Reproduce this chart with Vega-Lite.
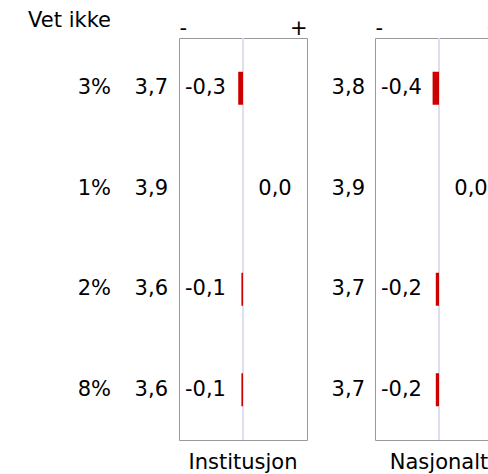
{
  "$schema": "https://vega.github.io/schema/vega-lite/v6.json",
  "padding": {"left": 0, "top": 10, "right": 0, "bottom": 0},
  "spacing": 0,
  "datasets": {
    "rows": [
      {"row": 1, "pct": 0.03, "inst_mean": 3.7, "inst_diff": -0.3, "nat_mean": 3.8, "nat_diff": -0.4},
      {"row": 2, "pct": 0.01, "inst_mean": 3.9, "inst_diff": 0.0, "nat_mean": 3.9, "nat_diff": 0.0},
      {"row": 3, "pct": 0.02, "inst_mean": 3.6, "inst_diff": -0.1, "nat_mean": 3.7, "nat_diff": -0.2},
      {"row": 4, "pct": 0.08, "inst_mean": 3.6, "inst_diff": -0.1, "nat_mean": 3.7, "nat_diff": -0.2}
    ]
  },
  "hconcat": [
    {
      "width": 111,
      "height": 402,
      "data": {"name": "rows"},
      "view": {"stroke": null},
      "title": {"text": "Vet ikke", "anchor": "end", "orient": "top", "baseline": "alphabetic", "offset": -10},
      "mark": {"type": "text", "align": "right", "baseline": "middle", "fontSize": 21},
      "encoding": {
        "y": {"field": "row", "type": "ordinal", "axis": null, "scale": {"type": "band", "paddingInner": 0, "paddingOuter": 0}},
        "x": {"datum": 1, "type": "quantitative", "scale": {"domain": [0, 1]}, "axis": null},
        "text": {"field": "pct", "type": "quantitative", "format": ".0%"}
      }
    },
    {
      "width": 67,
      "height": 402,
      "data": {"name": "rows"},
      "view": {"stroke": null},
      "mark": {"type": "text", "align": "right", "baseline": "middle", "fontSize": 21, "dx": -10},
      "encoding": {
        "y": {"field": "row", "type": "ordinal", "axis": null, "scale": {"type": "band", "paddingInner": 0, "paddingOuter": 0}},
        "x": {"datum": 1, "type": "quantitative", "scale": {"domain": [0, 1]}, "axis": null},
        "text": {"field": "inst_mean", "type": "quantitative", "format": ".1f"}
      }
    },
    {
      "width": 128,
      "height": 402,
      "data": {"name": "rows"},
      "view": {"stroke": "#999999"},
      "title": {"text": "Institusjon", "orient": "bottom", "anchor": "middle", "baseline": "alphabetic", "offset": 28},
      "encoding": {
        "y": {"field": "row", "type": "ordinal", "axis": null, "scale": {"type": "band", "paddingInner": 0, "paddingOuter": 0}}
      },
      "layer": [
        {
          "mark": {"type": "rule", "color": "#dcdcf0", "strokeWidth": 1},
          "encoding": {
            "x": {"datum": 0, "type": "quantitative", "scale": {"domain": [-4, 4]}, "axis": {"orient": "top", "values": [-4, 4], "labelExpr": "datum.value < 0 ? '-' : '+'", "labelFlush": true, "ticks": false, "domain": false, "grid": false, "title": null, "labelFontSize": 21, "labelColor": "black", "labelBaseline": "alphabetic", "labelPadding": 4}},
            "y": null
          }
        },
        {
          "mark": {"type": "bar", "color": "#cc0000", "size": 33},
          "encoding": {
            "x": {"field": "inst_diff", "type": "quantitative"}
          }
        },
        {
          "transform": [{"filter": "datum.inst_diff < 0"}],
          "mark": {"type": "text", "align": "left", "baseline": "middle", "fontSize": 21, "dx": 6},
          "encoding": {
            "x": {"datum": -4, "type": "quantitative"},
            "text": {"field": "inst_diff", "type": "quantitative", "format": ".1f"}
          }
        },
        {
          "transform": [{"filter": "datum.inst_diff >= 0"}],
          "mark": {"type": "text", "align": "center", "baseline": "middle", "fontSize": 21},
          "encoding": {
            "x": {"datum": 2, "type": "quantitative"},
            "text": {"field": "inst_diff", "type": "quantitative", "format": ".1f"}
          }
        }
      ]
    },
    {
      "width": 66,
      "height": 402,
      "data": {"name": "rows"},
      "view": {"stroke": null},
      "mark": {"type": "text", "align": "right", "baseline": "middle", "fontSize": 21, "dx": -9},
      "encoding": {
        "y": {"field": "row", "type": "ordinal", "axis": null, "scale": {"type": "band", "paddingInner": 0, "paddingOuter": 0}},
        "x": {"datum": 1, "type": "quantitative", "scale": {"domain": [0, 1]}, "axis": null},
        "text": {"field": "nat_mean", "type": "quantitative", "format": ".1f"}
      }
    },
    {
      "width": 128,
      "height": 402,
      "data": {"name": "rows"},
      "view": {"stroke": "#999999"},
      "title": {"text": "Nasjonalt", "orient": "bottom", "anchor": "middle", "baseline": "alphabetic", "offset": 28},
      "encoding": {
        "y": {"field": "row", "type": "ordinal", "axis": null, "scale": {"type": "band", "paddingInner": 0, "paddingOuter": 0}}
      },
      "layer": [
        {
          "mark": {"type": "rule", "color": "#dcdcf0", "strokeWidth": 1},
          "encoding": {
            "x": {"datum": 0, "type": "quantitative", "scale": {"domain": [-4, 4]}, "axis": {"orient": "top", "values": [-4, 4], "labelExpr": "datum.value < 0 ? '-' : '+'", "labelFlush": true, "ticks": false, "domain": false, "grid": false, "title": null, "labelFontSize": 21, "labelColor": "black", "labelBaseline": "alphabetic", "labelPadding": 4}},
            "y": null
          }
        },
        {
          "mark": {"type": "bar", "color": "#cc0000", "size": 33},
          "encoding": {
            "x": {"field": "nat_diff", "type": "quantitative"}
          }
        },
        {
          "transform": [{"filter": "datum.nat_diff < 0"}],
          "mark": {"type": "text", "align": "left", "baseline": "middle", "fontSize": 21, "dx": 6},
          "encoding": {
            "x": {"datum": -4, "type": "quantitative"},
            "text": {"field": "nat_diff", "type": "quantitative", "format": ".1f"}
          }
        },
        {
          "transform": [{"filter": "datum.nat_diff >= 0"}],
          "mark": {"type": "text", "align": "center", "baseline": "middle", "fontSize": 21},
          "encoding": {
            "x": {"datum": 2, "type": "quantitative"},
            "text": {"field": "nat_diff", "type": "quantitative", "format": ".1f"}
          }
        }
      ]
    }
  ],
  "config": {
    "font": "DejaVu Sans",
    "locale": {"number": {"decimal": ",", "thousands": " ", "grouping": [3], "currency": ["", " kr"], "minus": "-"}},
    "title": {"fontSize": 21, "fontWeight": "normal", "color": "black", "font": "DejaVu Sans"},
    "text": {"color": "black", "font": "DejaVu Sans"},
    "axis": {"labelFont": "DejaVu Sans"}
  }
}
